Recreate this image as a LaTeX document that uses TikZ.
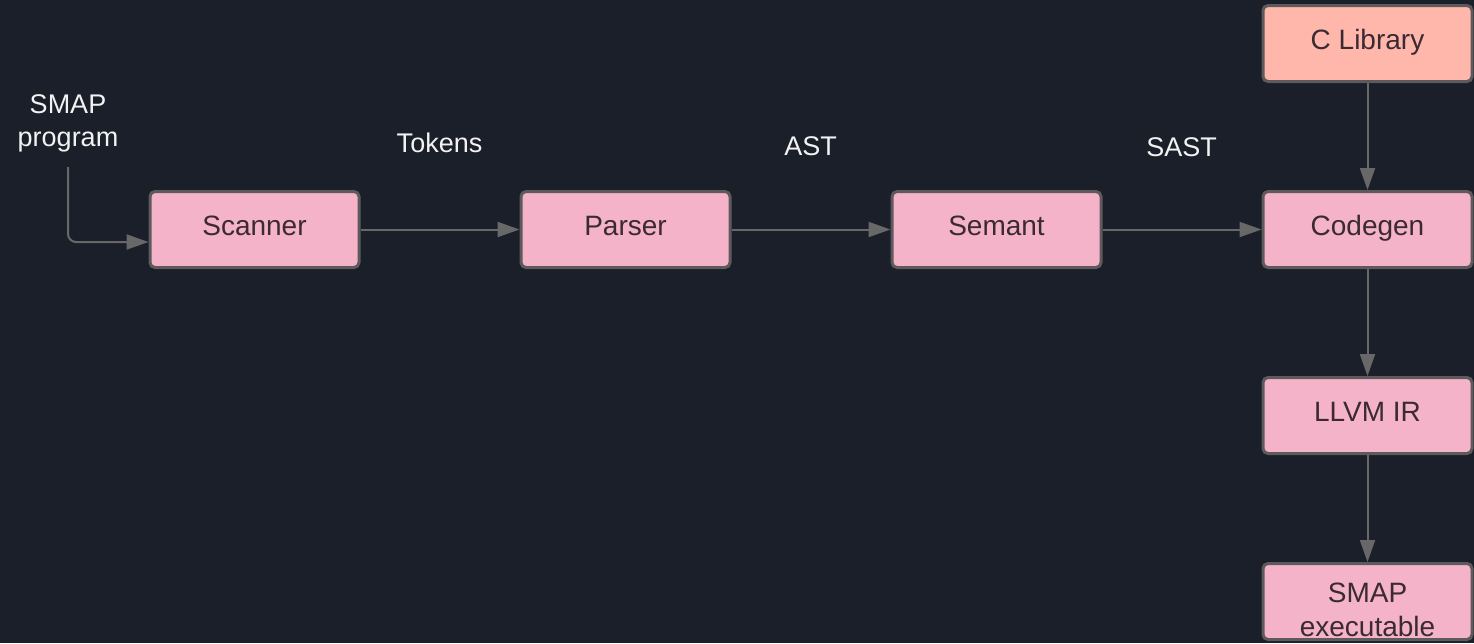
\documentclass[tikz,border=0pt]{standalone}
\usepackage{fontspec}
\setmainfont{Liberation Sans}
\usepackage{xcolor}
\usetikzlibrary{arrows.meta, positioning}

\definecolor{bgdark}{HTML}{1B1F2A}
\definecolor{boxpink}{HTML}{F4B3C9}
\definecolor{boxsalmon}{HTML}{FFB7AC}
\definecolor{boxline}{HTML}{5E5A5C}
\definecolor{boxtext}{HTML}{3B2A32}
\definecolor{arrowgray}{HTML}{686868}
\definecolor{lbltext}{HTML}{F2F2F2}

\begin{document}
\begin{tikzpicture}[x=1pt, y=-1pt, node distance=159pt,
    boxbase/.style={rectangle, rounded corners=5pt, draw=boxline, line width=3pt, fill=boxpink, text=boxtext,
        minimum width=209pt, minimum height=76pt, inner sep=0pt, align=center,
        font=\fontsize{28}{34}\selectfont},
    box/.style={boxbase, text height=20pt, text depth=9pt},
    lbl/.style={text=lbltext, align=center, font=\fontsize{27}{33}\selectfont},
    flow/.style={draw=arrowgray, line width=2pt, -{Triangle[length=22pt, width=15pt]}}]

    % background
    \fill[bgdark] (0,0) rectangle (1474,643);

    % main pipeline
    \node[box] (scanner) at (254.5,229.5) {Scanner};
    \node[box, right=of scanner] (parser) {Parser};
    \node[box, right=of parser] (semant) {Semant};
    \node[box, right=of semant] (codegen) {Codegen};

    % column on the right
    \node[box, fill=boxsalmon, above=107pt of codegen] (clib) {C Library};
    \node[box, below=107pt of codegen] (llvm) {LLVM IR};
    \node[boxbase, below=107pt of llvm] (exe) {\rule{0pt}{36pt}SMAP\\executable};

    % labels
    \node[lbl] (src) at (68,123) {SMAP\\program};
    \node[lbl, anchor=base] (tokens) at (439.5,152) {Tokens};
    \node[lbl, anchor=base] (ast) at (810.5,155) {AST};
    \node[lbl, anchor=base] (sast) at (1181.5,156) {SAST};
    \coordinate (srcend) at (68,167);

    \draw[flow, rounded corners=8pt] (srcend) |- ([yshift=-12.5pt]scanner.west);
    \draw[flow] (scanner) -- (parser);
    \draw[flow] (parser) -- (semant);
    \draw[flow] (semant) -- (codegen);
    \draw[flow] (clib) -- (codegen);
    \draw[flow] (codegen) -- (llvm);
    \draw[flow] (llvm) -- (exe);
\end{tikzpicture}
\end{document}
